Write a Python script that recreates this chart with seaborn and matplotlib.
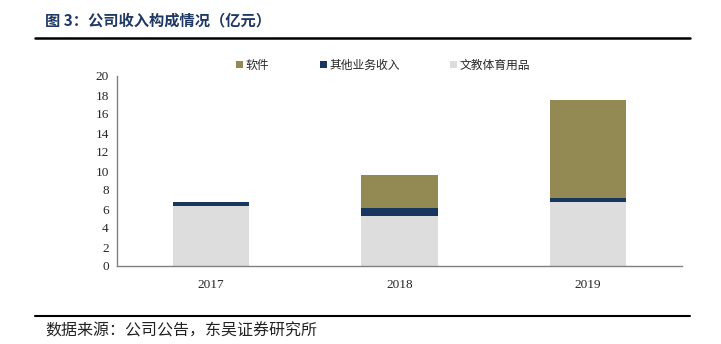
import matplotlib
matplotlib.use("Agg")
import matplotlib.pyplot as plt
import seaborn as sns
import numpy as np
from matplotlib.patches import Patch
from matplotlib.lines import Line2D

years = ["2017", "2018", "2019"]
wenjiao = [6.30, 5.27, 6.74]      # 文教体育用品
qita = [0.42, 0.88, 0.40]         # 其他业务收入
ruanjian = [0.00, 3.40, 10.33]    # 软件
series_names = ["软件", "其他业务收入", "文教体育用品"]
yticks = list(range(0, 21, 2))

C_SOFT = "#938953"
C_OTHER = "#17375E"
C_WEN = "#DDDDDD"

sns.set_theme(style="white")
plt.rcParams['font.family'] = ['Noto Sans CJK SC', 'DejaVu Sans']

fig = plt.figure(figsize=(7.21, 3.44), dpi=100)
ax = fig.add_axes([117/721, 1-266/344, (682-117)/721, (266-76)/344])

w = 0.405
bottom2 = np.array(wenjiao)
bottom3 = bottom2 + np.array(qita)
sns.barplot(x=years, y=wenjiao, color=C_WEN, width=w, ax=ax, saturation=1, linewidth=0)
sns.barplot(x=years, y=qita, bottom=bottom2, color=C_OTHER, width=w, ax=ax, saturation=1, linewidth=0)
sns.barplot(x=years, y=ruanjian, bottom=bottom3, color=C_SOFT, width=w, ax=ax, saturation=1, linewidth=0)

ax.set_xlim(-0.5, 2.5)
ax.set_ylim(0, 20)
ax.set_yticks(yticks)
ax.set_yticklabels([str(t) for t in yticks])
ax.set_xticks(range(len(years)))
ax.set_xticklabels(years)
for lbl in ax.get_yticklabels() + ax.get_xticklabels():
    lbl.set_family(['Liberation Serif'])
    lbl.set_fontsize(9.5)
ax.set_xticks([0.5, 1.5, 2.5], minor=True)
ax.tick_params(axis='x', which='major', length=0, pad=9)
ax.tick_params(axis='x', which='minor', direction='in', length=4, color='#808080', width=0.8)
ax.tick_params(axis='y', which='major', length=3, color='#808080', width=0.8, pad=3, direction='out')
ax.set_xlabel("")
ax.set_ylabel("")
for s in ['top', 'right']:
    ax.spines[s].set_visible(False)
for s in ['left', 'bottom']:
    ax.spines[s].set_color('#808080')
    ax.spines[s].set_linewidth(1.0)

handles = [Patch(facecolor=C_SOFT, edgecolor='none'),
           Patch(facecolor=C_OTHER, edgecolor='none'),
           Patch(facecolor=C_WEN, edgecolor='none')]
fig.legend(handles, series_names, loc='center left', bbox_to_anchor=(236/721, 1-65/344),
           ncol=3, frameon=False, fontsize=8.5, handlelength=0.6, handleheight=0.6,
           handletextpad=0.2, columnspacing=4.3, borderpad=0, borderaxespad=0)

fig.text(45/721, 1-20/344, "图 3：公司收入构成情况（亿元）", fontsize=11, fontweight='bold',
         color='#1F3864', va='center', ha='left')
fig.add_artist(Line2D([35/721, 690/721], [1-37.5/344, 1-37.5/344], color='black', lw=1.8,
                      transform=fig.transFigure))
fig.add_artist(Line2D([35/721, 690/721], [1-316/344, 1-316/344], color='black', lw=1.5,
                      transform=fig.transFigure))
fig.text(45/721, 1-331/344, "数据来源：公司公告，东吴证券研究所", fontsize=11.5,
         color='#222222', va='center', ha='left')

fig.savefig("out.png", dpi=100)
